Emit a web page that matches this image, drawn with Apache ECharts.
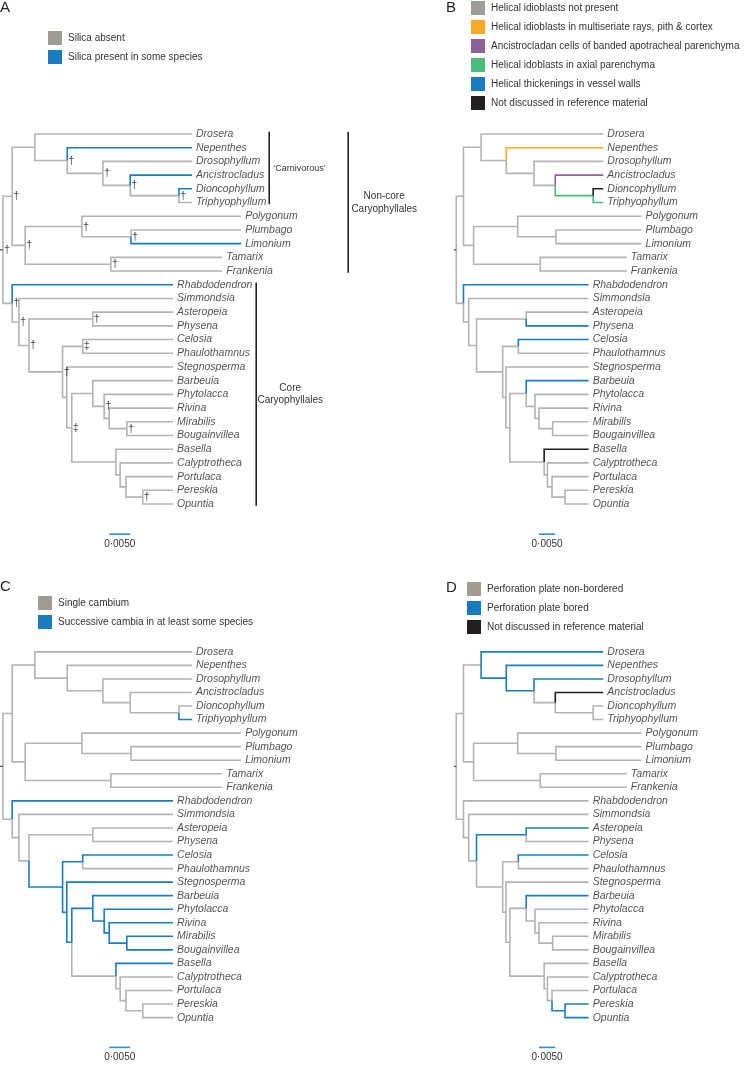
<!DOCTYPE html>
<html><head><meta charset="utf-8">
<script src="https://cdn.jsdelivr.net/npm/echarts@6/dist/echarts.min.js"></script>
<style>html,body{margin:0;padding:0;background:#fff}#c{width:748px;height:1065px}</style>
</head><body><div id="c"></div>
<script>
const FONT = '"Liberation Sans", Arial, Helvetica, sans-serif';

// ---------- tree data (substitutions per site) ----------
const taxa = ['Drosera','Nepenthes','Drosophyllum','Ancistrocladus','Dioncophyllum','Triphyophyllum',
  'Polygonum','Plumbago','Limonium','Tamarix','Frankenia',
  'Rhabdodendron','Simmondsia','Asteropeia','Physena','Celosia','Phaulothamnus','Stegnosperma',
  'Barbeuia','Phytolacca','Rivina','Mirabilis','Bougainvillea','Basella','Calyptrotheca','Portulaca','Pereskia','Opuntia'];
const taxonDepth = [0.0457,0.0457,0.0457,0.0457,0.0457,0.0457,
  0.0574,0.0574,0.0574,0.0529,0.0529,
  0.0412,0.0412,0.0412,0.0412,0.0412,0.0412,0.0412,
  0.0412,0.0412,0.0412,0.0412,0.0412,0.0412,0.0412,0.0412,0.0412,0.0412];
const clades = ['root','nonCore','droseraClade','nepClade','drosophClade','ancClade','dionClade',
  'polyTamClade','polyClade','plumClade','tamClade',
  'core','simClade','astPlusClade','astClade','celPlusClade','celClade','stegPlusClade','barbPlusClade',
  'barbClade','phytClade','rivClade','mirClade','basClade','calClade','porClade','perClade'];
const cladeDepth = [0.0007,0.0029,0.0083,0.0160,0.0245,0.0310,0.0426,
  0.0060,0.0195,0.0312,0.0264,
  0.0029,0.0045,0.0069,0.0221,0.0149,0.0197,0.0159,0.0171,
  0.0221,0.0248,0.0260,0.0302,0.0276,0.0286,0.0300,0.0340];
const cladeChildren = [['nonCore','core'],['droseraClade','polyTamClade'],['Drosera','nepClade'],['Nepenthes','drosophClade'],
  ['Drosophyllum','ancClade'],['Ancistrocladus','dionClade'],['Dioncophyllum','Triphyophyllum'],
  ['polyClade','tamClade'],['Polygonum','plumClade'],['Plumbago','Limonium'],['Tamarix','Frankenia'],
  ['Rhabdodendron','simClade'],['Simmondsia','astPlusClade'],['astClade','celPlusClade'],['Asteropeia','Physena'],
  ['celClade','stegPlusClade'],['Celosia','Phaulothamnus'],['Stegnosperma','barbPlusClade'],['barbClade','basClade'],
  ['Barbeuia','phytClade'],['Phytolacca','rivClade'],['Rivina','mirClade'],['Mirabilis','Bougainvillea'],
  ['Basella','calClade'],['Calyptrotheca','porClade'],['Portulaca','perClade'],['Pereskia','Opuntia']];
const scaleBarLength = 0.0050;
const scaleBarLabel = '0·0050';

// ---------- A: silica ----------
const silicaStates = ['Silica absent','Silica present in some species'];
const silicaColors = ['#a09c94','#1a7cc0'];
const silicaPresent = ['Nepenthes','Ancistrocladus','Dioncophyllum','Limonium','Rhabdodendron'];
const silicaMarkNodes = ['root','nonCore','nepClade','drosophClade','ancClade','dionClade','polyTamClade','polyClade','plumClade','tamClade',
  'core','simClade','astPlusClade','astClade','celClade','celPlusClade','barbPlusClade','phytClade','mirClade','perClade'];
const silicaMarks = ['†','†','†','†','†','†','†','†','†','†','†','†','†','†','‡','†','‡','†','†','†'];
const carnivorousTaxa = ['Drosera','Triphyophyllum'];
const nonCoreTaxa = ['Drosera','Frankenia'];
const coreTaxa = ['Rhabdodendron','Opuntia'];

// ---------- B: helical cells ----------
const helicalStates = ['Helical idioblasts not present','Helical idioblasts in multiseriate rays, pith & cortex',
  'Ancistrocladan cells of banded apotracheal parenchyma','Helical idoblasts in axial parenchyma',
  'Helical thickenings in vessel walls','Not discussed in reference material'];
const helicalColors = ['#a09c94','#f7a928','#8c6197','#4dbb7c','#1a7cc0','#231f20'];
const helicalMultiseriate = ['Nepenthes'];
const helicalAncistrocladan = ['Ancistrocladus'];
const helicalAxial = ['dionClade','Triphyophyllum'];
const helicalVessel = ['Rhabdodendron','Physena','Celosia','Barbeuia'];
const helicalNotDiscussed = ['Dioncophyllum','Basella'];

// ---------- C: cambium ----------
const cambiumStates = ['Single cambium','Successive cambia in at least some species'];
const cambiumColors = ['#a09c94','#1a7cc0'];
const cambiaSuccessive = ['Triphyophyllum','Rhabdodendron','celPlusClade','celClade','Celosia','stegPlusClade','Stegnosperma',
  'barbPlusClade','barbClade','Barbeuia','phytClade','Phytolacca','rivClade','Rivina','mirClade','Mirabilis','Bougainvillea','Basella'];

// ---------- D: perforation plates ----------
const perforationStates = ['Perforation plate non-bordered','Perforation plate bored','Not discussed in reference material'];
const perforationColors = ['#a09c94','#1a7cc0','#231f20'];
const perforationBordered = ['Drosera','nepClade','Nepenthes','drosophClade','Drosophyllum','astClade','Asteropeia',
  'Celosia','Barbeuia','perClade','Pereskia','Opuntia'];
const perforationNotDiscussed = ['Ancistrocladus'];

// ---------- layout of the tree (midpoint y, depth x) ----------
const yPos = {}, xPos = {}, childMap = {};
taxa.forEach((t, i) => { yPos[t] = i; xPos[t] = taxonDepth[i]; });
clades.forEach((c, i) => { xPos[c] = cladeDepth[i]; childMap[c] = cladeChildren[i]; });
function layY(n) {
  if (n in yPos) return yPos[n];
  const ys = childMap[n].map(layY);
  yPos[n] = (ys[0] + ys[ys.length - 1]) / 2;
  return yPos[n];
}
layY('root');
const branches = [];
clades.forEach(c => childMap[c].forEach(ch => branches.push({
  child: ch, coords: [[xPos[c], yPos[c]], [xPos[c], yPos[ch]], [xPos[ch], yPos[ch]]]
})));

const BRANCH_GREY = '#b3b3b3';
const panels = [
  {letter: 'A', left: 0, top: 134, states: silicaStates, colors: silicaColors, groups: [null, silicaPresent], legend: [48, 31]},
  {letter: 'B', left: 454, top: 134, states: helicalStates, colors: helicalColors,
    groups: [null, helicalMultiseriate, helicalAncistrocladan, helicalAxial, helicalVessel, helicalNotDiscussed], legend: [471, 1]},
  {letter: 'C', left: 0, top: 652, states: cambiumStates, colors: cambiumColors, groups: [null, cambiaSuccessive], legend: [38, 596]},
  {letter: 'D', left: 454, top: 652, states: perforationStates, colors: perforationColors,
    groups: [null, perforationBordered, perforationNotDiscussed], legend: [467, 582]}
];
const letterPos = [[0, 0], [446, 0], [0, 579], [446, 580]];

const PXX = 4200, PXY = 13.704, XMAX = 0.09, YMIN = -1, YMAX = 30.5;
const grid = [], xAxis = [], yAxis = [], series = [], legend = [];
panels.forEach((p, pi) => {
  grid.push({left: p.left, top: p.top + YMIN * PXY, width: XMAX * PXX, height: (YMAX - YMIN) * PXY});
  xAxis.push({type: 'value', gridIndex: pi, min: 0, max: XMAX, show: false});
  yAxis.push({type: 'value', gridIndex: pi, min: YMIN, max: YMAX, inverse: true, show: false});
  const stateOf = ch => {
    for (let s = 1; s < p.groups.length; s++) if (p.groups[s].includes(ch)) return s;
    return 0;
  };
  p.states.forEach((st, s) => {
    series.push({
      type: 'lines', name: st, coordinateSystem: 'cartesian2d', xAxisIndex: pi, yAxisIndex: pi,
      polyline: true, clip: false, silent: true, z: s === 0 ? 2 : 3,
      lineStyle: {color: s === 0 ? BRANCH_GREY : p.colors[s], width: 1.6, opacity: 1},
      itemStyle: {color: p.colors[s]},
      data: branches.filter(b => stateOf(b.child) === s).map(b => ({coords: b.coords}))
    });
  });
  // root stub
  series.push({type: 'lines', coordinateSystem: 'cartesian2d', xAxisIndex: pi, yAxisIndex: pi, polyline: true,
    clip: false, silent: true, lineStyle: {color: '#444', width: 1.2, opacity: 1},
    data: [{coords: [[0, yPos.root], [xPos.root, yPos.root]]}]});
  // scale bar
  series.push({type: 'lines', coordinateSystem: 'cartesian2d', xAxisIndex: pi, yAxisIndex: pi, polyline: true,
    clip: false, silent: true, lineStyle: {color: '#2a8fd3', width: 1.6, opacity: 1},
    data: [{coords: [[0.026, 29.2], [0.026 + scaleBarLength, 29.2]]}]});
  // taxon labels
  series.push({type: 'scatter', xAxisIndex: pi, yAxisIndex: pi, silent: true, symbolSize: 0.1,
    itemStyle: {color: 'rgba(0,0,0,0)'},
    label: {show: true, position: 'right', distance: 4, formatter: '{b}', fontStyle: 'italic', fontSize: 10.5,
      fontFamily: FONT, color: '#231f20'},
    data: taxa.map((t, i) => ({name: t, value: [taxonDepth[i], i]}))});
  legend.push({left: p.legend[0], top: p.legend[1], orient: 'vertical', padding: 0, itemWidth: 14, itemHeight: 14,
    itemGap: 5, icon: 'rect', selectedMode: false, itemStyle: {borderWidth: 0},
    textStyle: {fontSize: 10, fontFamily: FONT, color: '#333', padding: [0, 0, 0, 1]},
    data: p.states.map((st, s) => ({name: st, itemStyle: {color: p.colors[s], borderWidth: 0}}))});
});

// silica daggers on panel A
series.push({type: 'scatter', xAxisIndex: 0, yAxisIndex: 0, silent: true, symbolSize: 0.1, z: 5,
  itemStyle: {color: 'rgba(0,0,0,0)'},
  label: {show: true, position: 'right', distance: 1, formatter: '{b}', fontSize: 11, fontFamily: FONT, color: '#111'},
  data: silicaMarkNodes.map((n, i) => ({name: silicaMarks[i], value: [xPos[n], yPos[n]]}))});

// brackets on panel A
const bracketX = [0.0641, 0.0829, 0.0610];
const bracketSpans = [carnivorousTaxa, nonCoreTaxa, coreTaxa];
series.push({type: 'lines', coordinateSystem: 'cartesian2d', xAxisIndex: 0, yAxisIndex: 0, polyline: true,
  clip: false, silent: true, lineStyle: {color: '#231f20', width: 1.6, opacity: 1},
  data: bracketSpans.map((sp, i) => ({coords: [[bracketX[i], taxa.indexOf(sp[0]) - 0.17], [bracketX[i], taxa.indexOf(sp[1]) + 0.12]]}))});

const chart = echarts.init(document.getElementById('c'), null, {renderer: 'canvas'});
chart.setOption({animation: false, backgroundColor: '#fff', grid, xAxis, yAxis, series, legend});

// annotations positioned through the scales
const graphic = [];
panels.forEach((p, pi) => {
  graphic.push({type: 'text', x: letterPos[pi][0], y: letterPos[pi][1],
    style: {text: p.letter, font: '15px ' + FONT, fill: '#231f20', textVerticalAlign: 'top'}});
  const sp = chart.convertToPixel({gridIndex: pi}, [0.026 + scaleBarLength / 2, 29.2]);
  graphic.push({type: 'text', x: sp[0], y: sp[1] + 10,
    style: {text: scaleBarLabel, font: '10px ' + FONT, fill: '#333', textAlign: 'center', textVerticalAlign: 'middle'}});
});
const midY = sp => (taxa.indexOf(sp[0]) + taxa.indexOf(sp[1])) / 2;
const pc = chart.convertToPixel({gridIndex: 0}, [bracketX[0], midY(carnivorousTaxa)]);
graphic.push({type: 'text', x: pc[0] + 4, y: pc[1],
  style: {text: '‘Carnivorous’', font: '9px ' + FONT, fill: '#333', textVerticalAlign: 'middle'}});
const pn = chart.convertToPixel({gridIndex: 0}, [bracketX[1], midY(nonCoreTaxa)]);
graphic.push({type: 'text', x: pn[0] + 36, y: pn[1],
  style: {text: 'Non-core\nCaryophyllales', font: '10px ' + FONT, fill: '#333', textAlign: 'center',
    textVerticalAlign: 'middle', lineHeight: 12.5}});
const pk = chart.convertToPixel({gridIndex: 0}, [bracketX[2], midY(coreTaxa)]);
graphic.push({type: 'text', x: pk[0] + 34, y: pk[1],
  style: {text: 'Core\nCaryophyllales', font: '10px ' + FONT, fill: '#333', textAlign: 'center',
    textVerticalAlign: 'middle', lineHeight: 12.5}});
chart.setOption({graphic});
</script></body></html>
